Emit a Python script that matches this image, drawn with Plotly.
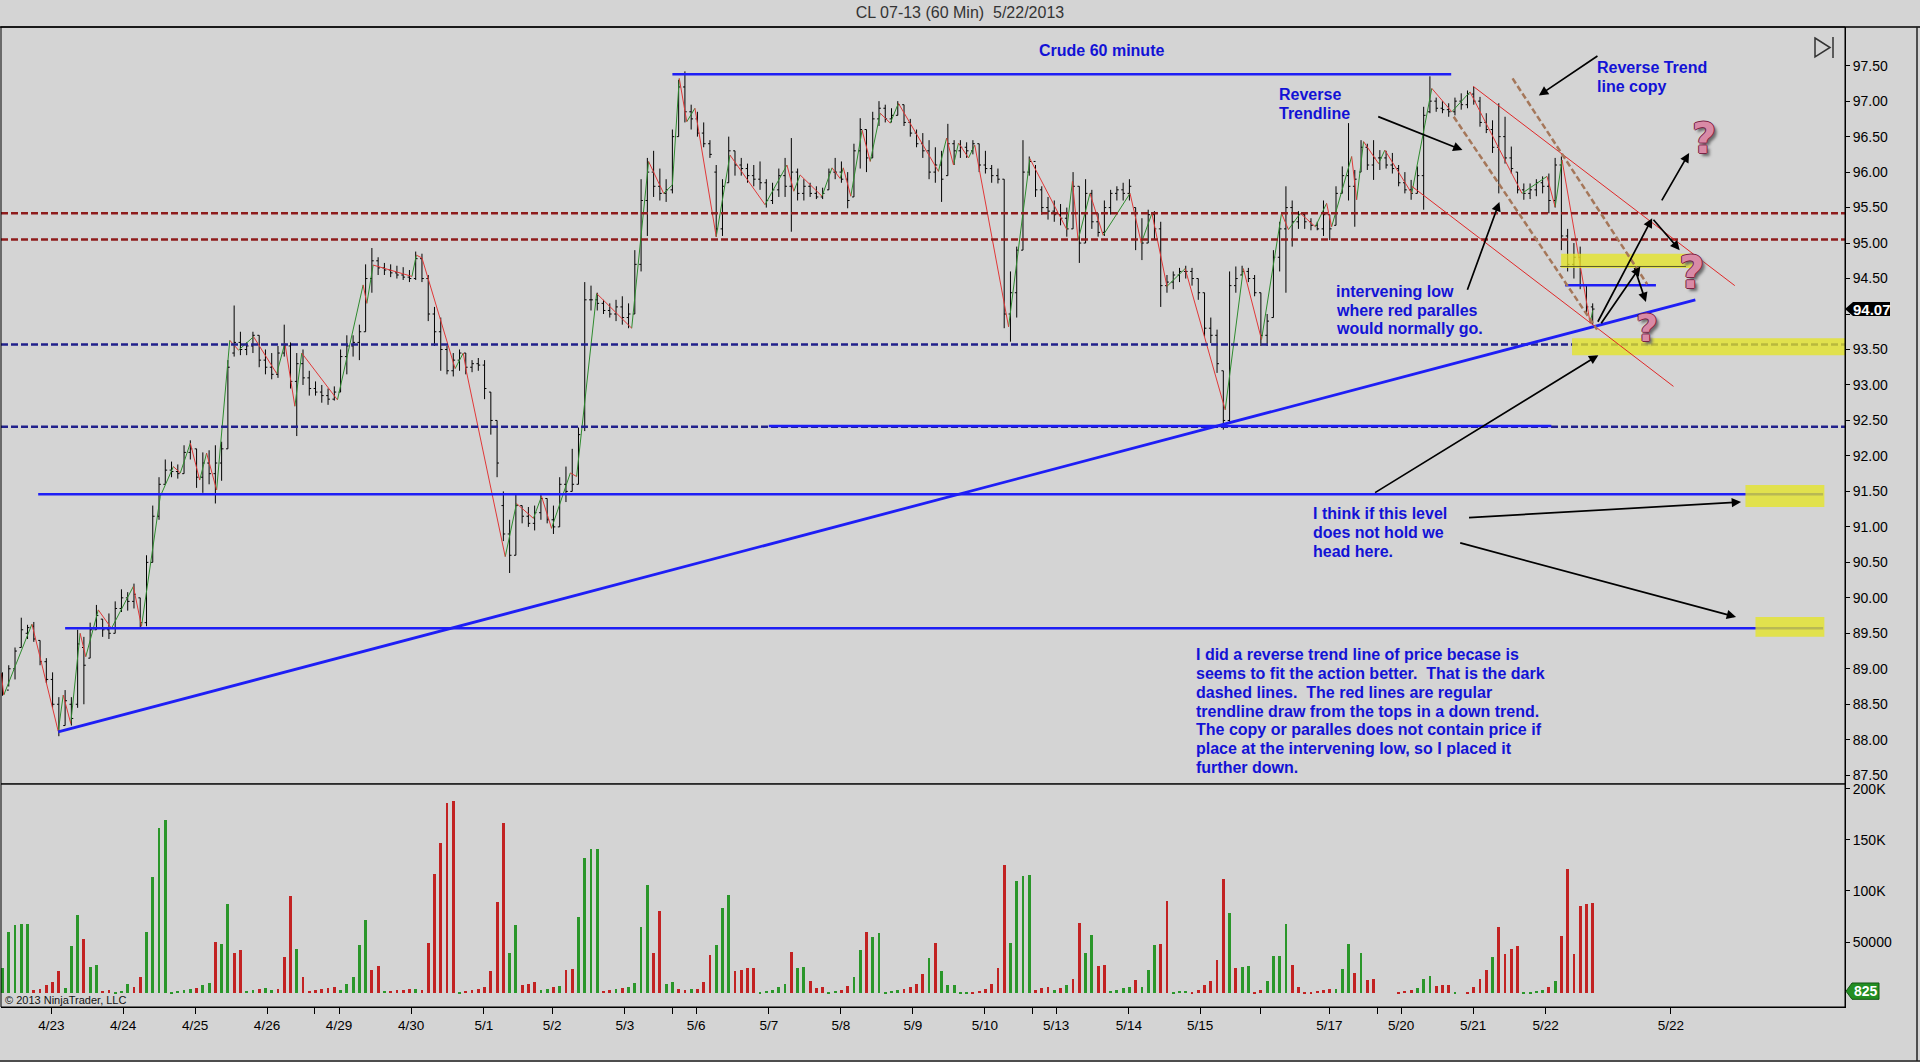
import plotly.graph_objects as go

HIGH = [
    88.95, 89.05, 89.3, 89.72, 89.62, 89.66, 89.4, 89.15, 88.95, 88.6,
    88.7, 88.6, 89.55, 89.45, 89.65, 89.9, 89.7, 89.78, 89.95, 90.12,
    90.08, 90.2, 90.0, 90.6, 91.3, 91.7, 91.95, 91.92, 91.88, 92.15,
    92.22, 92.1, 92.05, 92.08, 92.15, 92.2, 93.35, 94.12, 93.75, 93.6,
    93.75, 93.7, 93.5, 93.45, 93.55, 93.85, 93.6, 93.45, 93.5, 93.2,
    93.05, 93.0, 92.95, 92.98, 93.5, 93.7, 93.7, 93.85, 94.7, 94.93,
    94.8, 94.72, 94.7, 94.68, 94.66, 94.62, 94.88, 94.85, 94.55, 94.1,
    93.95, 93.55, 93.45, 93.5, 93.45, 93.35, 93.38, 93.35, 92.9, 92.5,
    91.5, 91.1, 91.45, 91.3, 91.28, 91.3, 91.45, 91.4, 91.3, 91.7,
    91.85, 92.1, 92.4, 94.45, 94.4, 94.3, 94.2, 94.15, 94.2, 94.25,
    94.15, 94.9, 95.9, 96.2, 96.3, 96.05, 95.9, 96.6, 97.3, 97.42,
    96.95, 96.85, 96.7, 96.45, 96.1, 95.9, 96.5, 96.3, 96.2, 96.12,
    96.1, 96.15, 95.9, 95.85, 96.05, 96.2, 96.48, 96.05, 95.9, 95.85,
    95.8, 95.78, 96.05, 96.2, 96.15, 96.0, 96.4, 96.76, 96.6, 96.85,
    97.0, 96.95, 96.9, 97.0, 96.95, 96.75, 96.6, 96.55, 96.45, 96.35,
    96.3, 96.68, 96.45, 96.45, 96.42, 96.45, 96.4, 96.3, 96.1, 96.05,
    95.9, 94.6, 94.95, 96.45, 96.22, 96.1, 95.8, 95.65, 95.6, 95.55,
    95.5, 96.0, 95.8, 95.9, 95.75, 95.42, 95.6, 95.75, 95.8, 95.85,
    95.9, 95.5, 95.35, 95.47, 95.45, 95.3, 94.55, 94.6, 94.65, 94.68,
    94.65, 94.5, 94.3, 93.95, 93.78, 93.2, 94.6, 94.67, 94.68, 94.65,
    94.55, 94.3, 94.0, 94.9, 95.3, 95.8, 95.6, 95.45, 95.42, 95.35,
    95.3, 95.6, 95.4, 95.8, 96.08, 96.69, 96.03, 96.45, 96.4, 96.45,
    96.31, 96.3, 96.27, 96.1, 96.0, 95.89, 96.08, 96.92, 97.35, 97.05,
    97.0, 96.97, 97.05, 97.11, 97.15, 97.2, 97.06, 96.83, 96.73, 96.97,
    96.78, 96.36, 96.0, 95.84, 95.84, 95.9, 95.94, 95.98, 96.2, 96.22,
    95.2, 95.0, 94.95, 94.4, 94.15,
]
LOW = [
    88.62, 88.75, 88.85, 89.3, 89.42, 89.38, 89.05, 88.8, 88.45, 88.05,
    88.2, 88.2, 88.45, 88.5, 89.15, 89.55, 89.45, 89.42, 89.5, 89.8,
    89.82, 89.85, 89.57, 89.6, 90.5, 91.1, 91.6, 91.7, 91.68, 91.75,
    91.95, 91.55, 91.48, 91.6, 91.33, 91.65, 92.1, 93.4, 93.42, 93.42,
    93.45, 93.25, 93.15, 93.08, 93.1, 93.4, 92.95, 92.28, 93.0, 92.85,
    92.85, 92.75, 92.72, 92.78, 92.9, 93.15, 93.4, 93.35, 93.75, 94.3,
    94.55, 94.55, 94.52, 94.5, 94.48, 94.45, 94.48, 94.45, 93.9, 93.55,
    93.2, 93.15, 93.12, 93.2, 93.15, 93.18, 93.2, 92.8, 92.3, 91.7,
    90.8, 90.35, 90.6, 91.05, 91.0, 90.95, 91.1, 91.05, 90.9, 91.0,
    91.35, 91.5, 91.6, 92.35, 94.05, 94.05, 94.0, 93.95, 93.9, 93.85,
    93.8, 94.0, 94.6, 95.1, 95.65, 95.6, 95.58, 95.7, 96.5, 96.7,
    96.6, 96.5, 96.35, 96.2, 95.09, 95.1, 95.85, 95.95, 95.95, 95.85,
    95.8, 95.75, 95.5, 95.55, 95.65, 95.65, 95.16, 95.6, 95.6, 95.65,
    95.62, 95.62, 95.75, 95.9, 95.85, 95.49, 95.65, 96.05, 96.0, 96.2,
    96.65, 96.7, 96.7, 96.8, 96.65, 96.5, 96.35, 96.2, 95.9, 95.85,
    95.58, 95.95, 96.1, 96.2, 96.2, 96.25, 96.0, 95.98, 95.85, 95.84,
    93.8, 93.61, 93.95, 94.9, 95.95, 95.65, 95.4, 95.33, 95.3, 95.25,
    95.09, 95.2, 94.72, 95.0, 95.2, 95.09, 95.1, 95.4, 95.6, 95.6,
    95.6, 94.9, 94.76, 95.0, 95.05, 94.1, 94.3, 94.35, 94.45, 94.5,
    94.4, 94.2, 93.68, 93.59, 93.17, 92.37, 92.45, 94.3, 94.55, 94.45,
    94.25, 93.55, 93.55, 93.95, 94.6, 94.3, 94.95, 95.2, 95.2, 95.18,
    95.18, 95.1, 95.04, 95.25, 95.7, 95.6, 95.23, 96.0, 96.03, 95.89,
    96.03, 96.05, 95.98, 95.8, 95.7, 95.61, 95.7, 95.47, 96.83, 96.85,
    96.83, 96.78, 96.8, 96.88, 96.9, 96.95, 96.64, 96.55, 96.27, 95.7,
    96.12, 95.98, 95.7, 95.61, 95.62, 95.66, 95.7, 95.42, 95.5, 94.9,
    94.6, 94.5, 94.35, 94.0, 93.85,
]
OPEN = [
    88.9, 88.7, 89.0, 89.3, 89.5, 89.6, 89.4, 89.1, 88.85, 88.5,
    88.2, 88.5, 88.5, 89.3, 89.15, 89.55, 89.7, 89.55, 89.5, 89.85,
    90.0, 89.95, 90.0, 89.65, 90.5, 91.15, 91.6, 91.8, 91.78, 91.75,
    92.05, 92.1, 91.7, 91.9, 91.75, 91.9, 92.1, 93.45, 93.6, 93.5,
    93.55, 93.7, 93.35, 93.25, 93.15, 93.45, 93.55, 93.05, 93.3, 93.1,
    92.95, 92.9, 92.85, 92.8, 92.9, 93.4, 93.55, 93.6, 93.75, 94.5,
    94.75, 94.65, 94.62, 94.58, 94.55, 94.52, 94.5, 94.78, 94.5, 94.0,
    93.75, 93.5, 93.2, 93.35, 93.45, 93.25, 93.3, 93.28, 92.9, 92.5,
    91.3, 90.9, 90.6, 91.3, 91.15, 91.05, 91.2, 91.4, 91.1, 91.0,
    91.6, 91.5, 91.6, 92.4, 94.2, 94.2, 94.15, 94.05, 94.0, 94.1,
    93.95, 94.0, 94.7, 95.6, 96.0, 95.8, 95.7, 95.75, 96.5, 97.2,
    96.85, 96.75, 96.55, 96.4, 96.0, 95.2, 95.85, 96.3, 96.1, 96.05,
    95.95, 95.9, 95.85, 95.6, 95.75, 95.95, 95.8, 96.0, 95.7, 95.8,
    95.7, 95.65, 95.75, 96.0, 96.0, 95.9, 95.65, 96.3, 96.6, 96.2,
    96.75, 96.9, 96.75, 96.8, 96.95, 96.7, 96.55, 96.4, 96.3, 96.0,
    96.1, 95.95, 96.4, 96.3, 96.35, 96.3, 96.4, 96.1, 96.05, 95.95,
    95.9, 94.0, 94.3, 94.9, 96.0, 96.15, 95.75, 95.5, 95.45, 95.4,
    95.35, 95.2, 95.8, 95.0, 95.7, 95.3, 95.15, 95.5, 95.7, 95.75,
    95.7, 95.5, 95.05, 95.0, 95.4, 95.2, 94.4, 94.45, 94.55, 94.6,
    94.6, 94.5, 94.3, 93.8, 93.7, 93.2, 92.5, 94.4, 94.55, 94.6,
    94.5, 94.3, 93.7, 93.95, 94.8, 95.2, 95.5, 95.3, 95.4, 95.3,
    95.25, 95.2, 95.4, 95.25, 95.7, 95.95, 95.8, 96.0, 96.35, 96.1,
    96.2, 96.2, 96.1, 96.05, 95.85, 95.75, 95.7, 95.95, 96.85, 97.0,
    96.9, 96.88, 96.85, 97.0, 96.95, 97.1, 97.0, 96.7, 96.6, 96.35,
    96.5, 96.2, 96.0, 95.75, 95.7, 95.75, 95.85, 95.8, 95.6, 96.1,
    95.1, 94.7, 94.8, 94.4, 94.1,
]
CLOSE = [
    88.65, 89.0, 89.25, 89.55, 89.58, 89.42, 89.1, 88.85, 88.5, 88.12,
    88.55, 88.3, 89.35, 89.05, 89.55, 89.75, 89.55, 89.5, 89.85, 90.0,
    89.95, 90.05, 89.65, 90.5, 91.15, 91.6, 91.8, 91.78, 91.75, 92.05,
    92.1, 91.7, 91.9, 91.75, 91.9, 92.1, 93.25, 93.6, 93.5, 93.55,
    93.7, 93.35, 93.25, 93.15, 93.45, 93.55, 93.05, 93.3, 93.1, 92.95,
    92.9, 92.85, 92.8, 92.9, 93.4, 93.55, 93.6, 93.75, 94.5, 94.75,
    94.65, 94.62, 94.58, 94.55, 94.52, 94.5, 94.78, 94.5, 94.0, 93.75,
    93.5, 93.2, 93.35, 93.45, 93.25, 93.3, 93.28, 92.95, 92.5, 91.9,
    90.9, 90.6, 91.3, 91.15, 91.05, 91.2, 91.4, 91.1, 91.0, 91.6,
    91.5, 91.6, 92.3, 94.2, 94.2, 94.15, 94.05, 94.0, 94.1, 93.95,
    94.0, 94.7, 95.6, 96.0, 95.8, 95.7, 95.75, 96.5, 97.2, 96.85,
    96.75, 96.55, 96.4, 96.25, 95.2, 95.8, 96.3, 96.1, 96.05, 95.95,
    95.9, 95.85, 95.6, 95.75, 95.95, 95.8, 96.0, 95.7, 95.8, 95.7,
    95.65, 95.7, 96.0, 96.0, 95.9, 95.6, 96.3, 96.6, 96.2, 96.75,
    96.9, 96.75, 96.8, 96.95, 96.7, 96.55, 96.4, 96.3, 96.0, 96.1,
    95.9, 96.4, 96.3, 96.35, 96.3, 96.4, 96.1, 96.05, 95.95, 95.9,
    94.0, 94.3, 94.9, 96.0, 96.15, 95.75, 95.5, 95.45, 95.4, 95.35,
    95.2, 95.8, 95.0, 95.7, 95.3, 95.15, 95.5, 95.7, 95.75, 95.7,
    95.8, 95.05, 95.0, 95.4, 95.2, 94.4, 94.45, 94.55, 94.6, 94.6,
    94.5, 94.3, 93.8, 93.7, 93.3, 92.5, 94.4, 94.5, 94.6, 94.5,
    94.3, 93.7, 93.9, 94.8, 95.2, 95.5, 95.3, 95.4, 95.3, 95.25,
    95.2, 95.4, 95.2, 95.7, 95.95, 95.8, 95.9, 96.35, 96.1, 96.2,
    96.2, 96.1, 96.05, 95.85, 95.75, 95.7, 95.95, 96.8, 97.0, 96.9,
    96.88, 96.85, 97.0, 96.95, 97.1, 97.0, 96.7, 96.6, 96.35, 96.5,
    96.2, 96.05, 95.75, 95.7, 95.75, 95.85, 95.8, 95.6, 96.1, 95.1,
    94.7, 94.8, 94.4, 94.1, 94.07,
]
# volume in thousands of contracts, and bar colour (g = up, r = down)
VOL_K = [
    25, 60, 67, 68, 68, 3, 4, 8, 11, 22,
    5, 46, 77, 53, 26, 28, 2, 3, 1, 2,
    9, 6, 16, 60, 114, 162, 170, 1, 2, 3,
    4, 5, 8, 10, 50, 48, 87, 39, 42, 2,
    3, 4, 5, 3, 4, 35, 95, 43, 16, 2,
    3, 4, 5, 6, 3, 9, 16, 47, 72, 23,
    27, 2, 2, 3, 3, 4, 4, 3, 49, 117,
    147, 186, 188, 1, 2, 3, 4, 6, 22, 89,
    167, 39, 67, 8, 9, 11, 3, 4, 6, 7,
    23, 24, 75, 132, 141, 141, 2, 3, 4, 5,
    6, 10, 65, 106, 39, 80, 9, 11, 4, 3,
    4, 4, 11, 37, 47, 83, 96, 22, 23, 25,
    25, 1, 2, 3, 6, 9, 40, 25, 26, 12,
    5, 6, 1, 2, 3, 7, 16, 42, 60, 55,
    59, 1, 2, 3, 4, 6, 9, 19, 34, 49,
    22, 8, 8, 1, 1, 1, 2, 4, 9, 25,
    126, 49, 110, 115, 116, 3, 5, 6, 3, 5,
    8, 14, 69, 39, 57, 27, 28, 2, 3, 5,
    6, 13, 6, 23, 47, 48, 90, 1, 2, 2,
    1, 3, 8, 12, 32, 112, 78, 25, 26, 27,
    1, 3, 12, 36, 36, 68, 28, 6, 1, 1,
    2, 3, 4, 4, 24, 48, 20, 39, 13, 14,
    0, 0, 0, 1, 2, 3, 5, 14, 17, 7,
    8, 8, 1, 0, 1, 6, 14, 23, 35, 65,
    38, 43, 46, 1, 1, 2, 3, 6, 12, 56,
    122, 38, 85, 87, 88,
]
VOL_DIR = (
    "gggggrrrrr" "gggrggrrgg" "grrggggggg" "grggrggrrg" "grggrrrgrr"
    "rrrrgggggr" "rgrrrrgrrr" "rrrgrrrrrr" "rggrrrggrg" "rrggggrrgr"
    "ggggrrggrr" "grrrgggrrr" "rgggggrggr" "rrggrrggrg" "ggggrrrrgr"
    "gggggrrrrr" "rggggrrrgr" "grrggrrggg" "grgggrrggg" "rrrrrrgrgg"
    "rrggggrrrr" "rrrgggrgrr" "rrrrrrgggr" "rrgrrrrrgr" "rrrggggrgr"
    "rrrrr"
)
# swing line drawn over the bars (bar index, price)
ZZ_X = [-0.2, 0.2, 4.7, 8.9, 9.7, 10.9, 12.4, 13.3, 15.3, 17.4, 20.9, 22.2,
        25.2, 27.3, 28.4, 30.0, 31.5, 32.6, 34.2, 36.3, 37.7, 40.1, 43.8,
        45.1, 46.7, 47.8, 53.5, 57.6, 58.2, 59.2, 65.4, 66.1, 67.0, 72.3,
        73.6, 74.1, 80.3, 82.1, 84.8, 86.1, 87.7, 90.7, 91.7, 94.9, 100.5,
        103.2, 105.6, 107.0, 108.1, 109.3, 110.6, 114.0, 116.2, 121.8, 125.3,
        126.4, 127.4, 130.9, 132.5, 133.8, 134.3, 135.5, 137.3, 138.6, 140.2,
        141.8, 143.1, 149.5, 150.8, 151.9, 152.7, 154.3, 155.3, 160.7, 164.1,
        170.0, 170.9, 171.8, 173.7, 175.8, 180.1, 181.9, 183.6, 186.0, 188.9,
        195.3, 198.2, 201.1, 204.3, 205.4, 207.3, 209.7, 211.5, 212.3, 215.5,
        216.3, 217.4, 219.8, 220.8, 225.1, 228.3, 231.5, 234.4, 242.7, 246.7,
        248.0, 249.1, 253.6, 254.0]
ZZ_Y = [88.94, 88.63, 89.63, 88.12, 88.63, 88.23, 89.5, 89.17, 89.83, 89.57, 90.16, 89.6,
        91.43, 91.85, 91.76, 92.18, 91.66, 92.04, 91.52, 93.63, 93.49, 93.68, 93.16,
        93.59, 92.7, 93.45, 92.79, 94.41, 94.15, 94.69, 94.53, 94.83, 94.79, 93.23,
        93.45, 93.19, 90.58, 91.33, 91.12, 91.43, 90.98, 91.76, 91.71, 94.29, 93.8,
        96.15, 95.7, 95.82, 97.32, 96.71, 96.9, 95.09, 96.24, 95.54, 96.1,
        95.73, 95.96, 95.66, 96.06, 95.91, 96.06, 95.66, 96.59, 96.15, 96.83,
        96.69, 96.97, 96.01, 96.48, 96.1, 96.41, 96.2, 96.38, 93.82, 96.19,
        95.19, 95.87, 95.04, 95.7, 95.11, 95.7, 95.0, 95.42, 94.39, 94.64,
        92.65, 94.64, 93.64, 95.42, 95.19, 95.42, 95.23, 95.56, 95.23, 96.22,
        95.61, 96.43, 96.12, 96.31, 95.7, 97.18, 96.85, 97.13, 95.7, 95.94,
        95.51, 96.17, 93.87, 94.05]

TICK_POS = [7.81, 19.25, 30.75, 42.25, 49.9, 53.75, 65.26, 76.9, 87.8, 99.4,
            107.0, 110.8, 122.4, 133.9, 145.4, 156.9, 164.5, 168.3, 179.9,
            191.3, 200.9, 211.95, 219.7, 223.4, 234.9, 246.5, 266.5]
TICK_TEXT = ["4/23", "4/24", "4/25", "4/26", "", "4/29", "4/30", "5/1", "5/2", "5/3",
             "", "5/6", "5/7", "5/8", "5/9", "5/10", "", "5/13", "5/14",
             "5/15", "", "5/17", "", "5/20", "5/21", "5/22", "5/22"]
PRICE_TICKS = [87.5 + 0.5 * k for k in range(21)]

LAST_PRICE = 94.07
LAST_VOL = 0.825

# chart notes: (bar index of left edge, price of first line, lines)
NOTES = [
    (203.5, 97.09, ["Reverse", "Trendline"]),
    (254.4, 97.47, ["Reverse Trend", "line copy"]),
    (212.6, 94.32, ["intervening low", "where red paralles", "would normally go."]),
    (209.0, 91.19, ["I think if this level", "does not hold we", "head here."]),
    (190.3, 89.20, ["I did a reverse trend line of price becase is",
                    "seems to fit the action better.&nbsp; That is the dark",
                    "dashed lines.&nbsp; The red lines are regular",
                    "trendline draw from the tops in a down trend.",
                    "The copy or paralles does not contain price if",
                    "place at the intervening low, so I placed it",
                    "further down."]),
]
LINE_STEP = 0.265  # price units between note lines (about 19 px)

FONT = "Liberation Sans, Arial, sans-serif"
BG = "#D4D4D4"
BLUE_TXT = "#1212D6"
BLUE = "#1E1EF5"
GREEN = "#2A962A"
RED = "#C22222"
SPLIT = 0.2276  # volume panel height (paper)

assert len(HIGH) == len(LOW) == len(OPEN) == len(CLOSE) == len(VOL_K) == len(VOL_DIR)
x = list(range(len(CLOSE)))


def px_x(px):
    return (px - 1) / 1844


def px_y(py):
    return (1007 - py) / 980


fig = go.Figure()

# swing line, green up / red down
gx, gy, rx, ry = [], [], [], []
for k in range(len(ZZ_X) - 1):
    tx, ty = (gx, gy) if ZZ_Y[k + 1] >= ZZ_Y[k] else (rx, ry)
    tx += [ZZ_X[k], ZZ_X[k + 1], None]
    ty += [ZZ_Y[k], ZZ_Y[k + 1], None]
fig.add_trace(go.Scatter(x=gx, y=gy, mode="lines", line=dict(color="#2E8B2E", width=1),
                         hoverinfo="skip", showlegend=False))
fig.add_trace(go.Scatter(x=rx, y=ry, mode="lines", line=dict(color="#E03838", width=1),
                         hoverinfo="skip", showlegend=False))

fig.add_trace(go.Ohlc(
    x=x, open=OPEN, high=HIGH, low=LOW, close=CLOSE,
    increasing=dict(line=dict(color="black", width=1)),
    decreasing=dict(line=dict(color="black", width=1)),
    tickwidth=0.3, hoverinfo="skip", showlegend=False,
))

fig.add_trace(go.Bar(
    x=x, y=VOL_K, width=0.45, yaxis="y2",
    marker=dict(color=[GREEN if c == "g" else RED for c in VOL_DIR], line=dict(width=0)),
    hoverinfo="skip", showlegend=False,
))

shapes = []


def line(x0, y0, x1, y1, color, width, dash="solid", xref="x", yref="y"):
    shapes.append(dict(type="line", xref=xref, yref=yref, x0=x0, y0=y0, x1=x1, y1=y1,
                       line=dict(color=color, width=width, dash=dash)))


# dashed levels across the whole panel
for lvl in [95.42, 95.05]:
    line(0, lvl, 1, lvl, "#8E1C1C", 2.5, "7px,3px", xref="paper")
for lvl in [93.57, 92.41]:
    line(0, lvl, 1, lvl, "#22228C", 2.5, "7px,3px", xref="paper")

# solid blue levels
for x0, x1, lvl in [(107.0, 231.4, 97.38), (122.4, 247.4, 92.42), (5.7, 290.8, 91.46),
                    (10.0, 290.8, 89.57), (249.6, 264.1, 94.405)]:
    line(x0, lvl, x1, lvl, BLUE, 2.5)

# yellow zones
for x0, x1, y0, y1 in [(248.96, 269.9, 94.65, 94.85), (250.7, 296.0, 93.42, 93.66),
                       (278.4, 291.0, 91.28, 91.59), (280.0, 291.0, 89.45, 89.73)]:
    shapes.append(dict(type="rect", xref="x", yref="y", x0=x0, x1=x1, y0=y0, y1=y1,
                       fillcolor="rgba(228,228,38,0.78)", line=dict(width=0), layer="above"))
line(248.8, 94.67, 268.9, 94.67, "#5A5A28", 1)

# up trendline
line(8.9, 88.11, 270.4, 94.2, BLUE, 2.8)
# red down channel
line(234.9, 97.21, 276.7, 94.40, "#E02828", 1)
line(225.1, 95.80, 266.9, 92.98, "#E02828", 1)
# reverse trend lines (brown dashed)
line(231.8, 96.78, 254.7, 93.78, "#A5775A", 2.5, "6px,3px")
line(241.2, 97.32, 262.7, 94.42, "#A5775A", 2.5, "6px,3px")

# panel frames
shapes.append(dict(type="rect", xref="paper", yref="paper", x0=0, x1=1, y0=SPLIT, y1=1,
                   line=dict(color="black", width=1)))
shapes.append(dict(type="rect", xref="paper", yref="paper", x0=0, x1=1, y0=0, y1=SPLIT,
                   line=dict(color="black", width=1)))
line(px_x(0), px_y(27), px_x(1920), px_y(27), "black", 1.5, xref="paper", yref="paper")
line(px_x(1917), px_y(27), px_x(1917), px_y(1061), "#222", 1.5, xref="paper", yref="paper")
line(px_x(0), px_y(1061), px_x(1920), px_y(1061), "#222", 1.5, xref="paper", yref="paper")

# scroll-to-end icon, top right
shapes.append(dict(type="path", xref="paper", yref="paper",
                   path=f"M {px_x(1815)},{px_y(38)} L {px_x(1830)},{px_y(47.5)} "
                        f"L {px_x(1815)},{px_y(57)} Z",
                   line=dict(color="#333", width=1.5)))
line(px_x(1833), px_y(37), px_x(1833), px_y(58), "#333", 1.5, xref="paper", yref="paper")

# last price / last volume tags
shapes.append(dict(type="path", xref="paper", yref="y", fillcolor="black", line=dict(width=0),
                   path=f"M {px_x(1845)},{LAST_PRICE} L {px_x(1853)},{LAST_PRICE + 0.099} "
                        f"L {px_x(1890)},{LAST_PRICE + 0.099} L {px_x(1890)},{LAST_PRICE - 0.099} "
                        f"L {px_x(1853)},{LAST_PRICE - 0.099} Z"))
shapes.append(dict(type="path", xref="paper", yref="y2", fillcolor="#238E23",
                   line=dict(color="#145814", width=1),
                   path=f"M {px_x(1846)},{LAST_VOL + 1} L {px_x(1852)},{LAST_VOL + 9} "
                        f"L {px_x(1879)},{LAST_VOL + 9} L {px_x(1879)},{LAST_VOL - 7} "
                        f"L {px_x(1852)},{LAST_VOL - 7} Z"))

annotations = []


def note(xv, yv, text, anchor="left"):
    annotations.append(dict(x=xv, y=yv, xref="x", yref="y", text=f"<b>{text}</b>",
                            showarrow=False, xanchor=anchor, yanchor="middle", align="left",
                            font=dict(family=FONT, size=16, color=BLUE_TXT)))


note(175.6, 97.72, "Crude 60 minute", anchor="center")
for nx, ny, lines in NOTES:
    for k, txt in enumerate(lines):
        note(nx, ny - k * LINE_STEP, txt)

ARROWS = [
    (219.5, 96.79, 233.2, 96.31), (255.0, 97.65, 245.4, 97.08),
    (233.9, 94.32, 239.1, 95.58), (219.0, 91.47, 254.9, 93.42),
    (234.0, 91.13, 277.7, 91.35), (232.6, 90.78, 276.9, 89.73),
    (254.7, 93.87, 263.5, 95.35), (263.5, 95.35, 267.9, 94.90),
    (255.2, 93.85, 261.6, 94.67), (260.6, 94.67, 262.5, 94.17),
    (264.9, 95.58, 269.4, 96.27),
]
for tx, ty, hx, hy in ARROWS:
    annotations.append(dict(x=hx, y=hy, ax=tx, ay=ty, xref="x", yref="y", axref="x", ayref="y",
                            text="", showarrow=True, arrowhead=2, arrowsize=1.1,
                            arrowwidth=1.7, arrowcolor="black", standoff=0, startstandoff=0))

# 3-D looking question marks
Q_SHADOW = ("1px 0px 0px #7A2345, -1px 0px 0px #7A2345, 0px 1px 0px #7A2345, "
            "0px -1px 0px #7A2345, 3px 3px 3px #6A6A6A")
for qx, qy, qs in [(271.8, 96.47, 42), (269.9, 94.59, 44), (262.7, 93.80, 38)]:
    annotations.append(dict(x=qx, y=qy, xref="x", yref="y", text="<b>?</b>", showarrow=False,
                            font=dict(family="DejaVu Sans", size=qs, color="#D98AA6",
                                      shadow=Q_SHADOW)))

# tag labels: paper refs near x=1 would auto-anchor right, so anchor explicitly
annotations.append(dict(x=px_x(1871.5), y=LAST_PRICE, xref="paper", yref="y",
                        xanchor="center", yanchor="middle", text="<b>94.07</b>",
                        showarrow=False, font=dict(family=FONT, size=15, color="white")))
annotations.append(dict(x=px_x(1865.5), y=LAST_VOL + 1, xref="paper", yref="y2",
                        xanchor="center", yanchor="middle", text="<b>825</b>",
                        showarrow=False, font=dict(family=FONT, size=14, color="white")))
annotations.append(dict(x=0, y=px_y(1000), xref="paper", yref="paper", xanchor="left",
                        yanchor="middle", xshift=2, text="© 2013 NinjaTrader, LLC",
                        showarrow=False, font=dict(family=FONT, size=11, color="#111")))

axis_common = dict(showgrid=False, zeroline=False, showline=True, linecolor="black",
                   ticks="outside", tickcolor="black")

# the 94.00 label sits under the last-price tag
price_text = ["" if abs(v - 94.0) < 1e-9 else f"{v:.2f}" for v in PRICE_TICKS]

fig.update_layout(
    width=1920, height=1062,
    margin=dict(l=1, r=75, t=27, b=55),
    paper_bgcolor=BG, plot_bgcolor=BG,
    font=dict(family=FONT),
    title=dict(text="CL 07-13 (60 Min)&nbsp; 5/22/2013", x=0.5, xanchor="center",
               y=1 - 12 / 1062, yanchor="middle",
               font=dict(family=FONT, size=16, color="#333")),
    showlegend=False,
    bargap=0,
    xaxis=dict(domain=[0, 1], anchor="y2", range=[-0.24, 294.3],
               tickvals=TICK_POS, ticktext=TICK_TEXT, ticklen=6,
               tickfont=dict(family=FONT, size=13.5, color="black"),
               rangeslider=dict(visible=False), **axis_common),
    yaxis=dict(domain=[SPLIT, 1], anchor="x", side="right", range=[87.377, 98.045],
               tickvals=PRICE_TICKS, ticktext=price_text, ticklen=4,
               tickfont=dict(family=FONT, size=14, color="black"), **axis_common),
    yaxis2=dict(domain=[0, SPLIT], anchor="x", side="right", range=[-13.7, 204.9],
                tickvals=[50, 100, 150, 200], ticktext=["50000", "100K", "150K", "200K"],
                ticklen=4, tickfont=dict(family=FONT, size=14, color="black"), **axis_common),
    shapes=shapes,
    annotations=annotations,
)

# the page's default 8px body margin would push the chart off its grid
fig.write_html("out.html", config={"displayModeBar": False},
               post_script="document.body.style.margin='0px';")
